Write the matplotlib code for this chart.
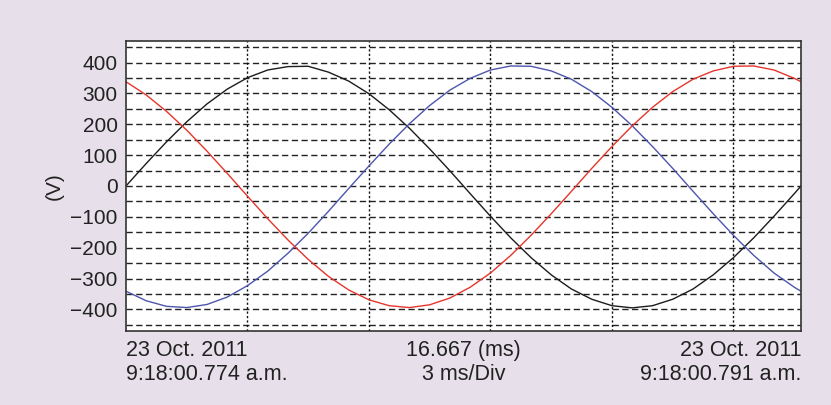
import matplotlib.pyplot as plt

plt.rcParams['font.family'] = ['Liberation Sans', 'DejaVu Sans']

# sample times (ms) across one 60 Hz cycle
t_ms = [0.0, 0.5, 1.0, 1.5, 2.0, 2.5, 3.0, 3.5, 4.0, 4.5, 5.0, 5.5, 6.0, 6.5,
        7.0, 7.5, 8.0, 8.5, 9.0, 9.5, 10.0, 10.5, 11.0, 11.5, 12.0, 12.5,
        13.0, 13.5, 14.0, 14.5, 15.0, 15.5, 16.0, 16.5, 16.667]

# phase voltages (V)
v_black = [0, 73, 143, 208, 266, 314, 351, 376, 387, 388, 369, 340, 299, 247,
           187, 120, 49, -25, -98, -168, -232, -288, -334, -367, -388, -395,
           -388, -367, -334, -288, -232, -168, -98, -25, 0]
v_red = [338, 295, 242, 181, 113, 41, -33, -106, -175, -238, -293, -337,
         -369, -388, -394, -385, -363, -328, -282, -225, -160, -90, -17, 57,
         128, 195, 255, 306, 346, 373, 388, 389, 376, 349, 338]
v_blue = [-341, -372, -390, -394, -384, -360, -323, -276, -218, -153, -82, -8,
          65, 136, 202, 261, 311, 349, 376, 389, 388, 373, 346, 306, 255, 195,
          128, 57, -17, -90, -160, -225, -282, -328, -341]

y_ticks = [400, 300, 200, 100, 0, -100, -200, -300, -400]
y_labels = ['400', '300', '200', '100', '0', '\u2212100', '\u2212200',
            '\u2212300', '\u2212400']

bg = '#e7e0ea'
fig = plt.figure(figsize=(8.31, 4.05), dpi=100, facecolor=bg)
ax = fig.add_axes([0.1516, 0.1827, 0.8123, 0.7161])
ax.set_facecolor('white')

ax.plot(t_ms, v_black, color='#1c1c1c', lw=1.0)
ax.plot(t_ms, v_blue, color='#4d55ad', lw=1.0)
ax.plot(t_ms, v_red, color='#e5352b', lw=1.0)

ax.set_xlim(0, 16.667)
ax.set_ylim(-470, 470)

# horizontal grid every 50 V, vertical grid every 3 ms
for yv in range(-450, 451, 50):
    ax.axhline(yv, color='#222222', lw=1.0, ls=(0, (4.5, 2.5)), zorder=0)
for xv in [3, 6, 9, 12, 15]:
    ax.axvline(xv, color='#111111', lw=1.0, ls=(0, (1.6, 1.6)), zorder=0)

ax.set_yticks(y_ticks)
ax.set_yticklabels(y_labels, fontsize=15, color='#222222')
ax.set_xticks([])
ax.tick_params(axis='y', length=0, pad=6)
ax.set_ylabel('(V)', fontsize=15, color='#222222', labelpad=5)

for s in ax.spines.values():
    s.set_color('#333333')
    s.set_linewidth(1.2)

txt = dict(fontsize=15.5, color='#222222', transform=ax.transAxes, va='top',
           linespacing=1.22)
ax.text(0.0, -0.03, '23 Oct. 2011\n9:18:00.774 a.m.', ha='left', **txt)
ax.text(0.5, -0.03, '16.667 (ms)\n3 ms/Div', ha='center', multialignment='center', **txt)
ax.text(1.0, -0.03, '23 Oct. 2011\n9:18:00.791 a.m.', ha='right', multialignment='right', **txt)

fig.savefig('out.png', dpi=100, facecolor=bg)
